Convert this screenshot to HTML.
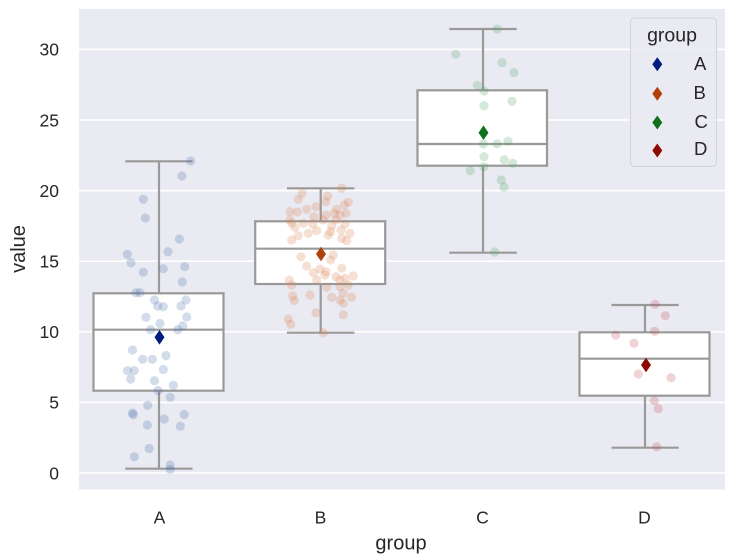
<!DOCTYPE html>
<html>
<head>
<meta charset="utf-8">
<style>
  html,body{margin:0;padding:0;background:#ffffff;}
  svg{display:block;}
  text{font-family:"Liberation Sans","DejaVu Sans",Arial,sans-serif;fill:#262626;}
</style>
</head>
<body>
<svg width="736" height="560" viewBox="0 0 736 560" xmlns="http://www.w3.org/2000/svg">
  <rect x="0" y="0" width="736" height="560" fill="#ffffff"/>
  <!-- plot area -->
  <rect x="79" y="9" width="646" height="480.5" fill="#eaeaf2"/>
  <!-- grid -->
  <g stroke="#ffffff" stroke-width="1.6">
    <line x1="79" x2="725" y1="473" y2="473"/>
    <line x1="79" x2="725" y1="402.4" y2="402.4"/>
    <line x1="79" x2="725" y1="331.8" y2="331.8"/>
    <line x1="79" x2="725" y1="261.2" y2="261.2"/>
    <line x1="79" x2="725" y1="190.6" y2="190.6"/>
    <line x1="79" x2="725" y1="120" y2="120"/>
    <line x1="79" x2="725" y1="49.4" y2="49.4"/>
  </g>

  <!-- boxes -->
  <g stroke="#999999" stroke-width="2.2" fill="none">
    <!-- A -->
    <line x1="159" x2="159" y1="161.3" y2="293.3"/>
    <line x1="159" x2="159" y1="390.7" y2="468.7"/>
    <line x1="125.3" x2="192.5" y1="161.3" y2="161.3"/>
    <line x1="125.3" x2="192.5" y1="468.7" y2="468.7"/>
    <rect x="93.5" y="293.3" width="130" height="97.4" fill="#ffffff"/>
    <line x1="93.5" x2="223.5" y1="329.7" y2="329.7"/>
    <!-- B -->
    <line x1="320.7" x2="320.7" y1="188.3" y2="221.3"/>
    <line x1="320.7" x2="320.7" y1="284" y2="332.7"/>
    <line x1="287" x2="354.4" y1="188.3" y2="188.3"/>
    <line x1="287" x2="354.4" y1="332.7" y2="332.7"/>
    <rect x="255.2" y="221.3" width="130" height="62.7" fill="#ffffff"/>
    <line x1="255.2" x2="385.2" y1="248.7" y2="248.7"/>
    <!-- C -->
    <line x1="483" x2="483" y1="29" y2="90.3"/>
    <line x1="483" x2="483" y1="165.7" y2="252.7"/>
    <line x1="449.3" x2="516.7" y1="29" y2="29"/>
    <line x1="449.3" x2="516.7" y1="252.7" y2="252.7"/>
    <rect x="417.5" y="90.3" width="129.5" height="75.4" fill="#ffffff"/>
    <line x1="417.5" x2="547" y1="144" y2="144"/>
    <!-- D -->
    <line x1="645" x2="645" y1="305" y2="332.3"/>
    <line x1="645" x2="645" y1="395.7" y2="447.7"/>
    <line x1="611.5" x2="678.7" y1="305" y2="305"/>
    <line x1="611.5" x2="678.7" y1="447.7" y2="447.7"/>
    <rect x="579.5" y="332.3" width="130" height="63.4" fill="#ffffff"/>
    <line x1="579.5" x2="709.5" y1="358.7" y2="358.7"/>
  </g>

  <!-- points A -->
  <g fill="#4c72b0" fill-opacity="0.25">
    <circle cx="190.7" cy="161" r="4.6"/><circle cx="182" cy="176" r="4.6"/><circle cx="143.3" cy="199.3" r="4.6"/>
    <circle cx="145.3" cy="218" r="4.6"/><circle cx="179.3" cy="239" r="4.6"/><circle cx="168" cy="251.7" r="4.6"/>
    <circle cx="127.3" cy="254.3" r="4.6"/><circle cx="131" cy="262.7" r="4.6"/><circle cx="143.3" cy="272.3" r="4.6"/>
    <circle cx="163.3" cy="268.7" r="4.6"/><circle cx="184.7" cy="266.7" r="4.6"/><circle cx="182.3" cy="282" r="4.6"/>
    <circle cx="136" cy="292.7" r="4.6"/><circle cx="140" cy="292.7" r="4.6"/><circle cx="154.5" cy="300" r="4.6"/>
    <circle cx="157.7" cy="306" r="4.6"/><circle cx="163.3" cy="306.7" r="4.6"/><circle cx="186" cy="300" r="4.6"/>
    <circle cx="181" cy="306" r="4.6"/><circle cx="146" cy="317.3" r="4.6"/><circle cx="186.7" cy="317" r="4.6"/>
    <circle cx="160" cy="323.5" r="4.6"/><circle cx="182.7" cy="326" r="4.6"/><circle cx="150.7" cy="329.7" r="4.6"/>
    <circle cx="177.7" cy="329.7" r="4.6"/><circle cx="132.5" cy="350" r="4.6"/><circle cx="142.7" cy="359.3" r="4.6"/>
    <circle cx="152.3" cy="359.3" r="4.6"/><circle cx="166" cy="355.5" r="4.6"/><circle cx="127.5" cy="370.7" r="4.6"/>
    <circle cx="134.3" cy="370.7" r="4.6"/><circle cx="130.7" cy="379" r="4.6"/><circle cx="163.3" cy="369.5" r="4.6"/>
    <circle cx="154.5" cy="380.7" r="4.6"/><circle cx="173.3" cy="385.2" r="4.6"/><circle cx="158" cy="390.5" r="4.6"/>
    <circle cx="170.2" cy="397.3" r="4.6"/><circle cx="147.7" cy="405.3" r="4.6"/><circle cx="132.5" cy="413" r="4.6"/>
    <circle cx="133.3" cy="414.7" r="4.6"/><circle cx="184.2" cy="414.5" r="4.6"/><circle cx="164.2" cy="419" r="4.6"/>
    <circle cx="147.3" cy="425" r="4.6"/><circle cx="180.3" cy="426.2" r="4.6"/><circle cx="149.2" cy="448.5" r="4.6"/>
    <circle cx="134.3" cy="456.8" r="4.6"/><circle cx="170.2" cy="465" r="4.6"/><circle cx="170.2" cy="469.3" r="4.6"/>
  </g>

  <!-- points B -->
  <g fill="#dd8452" fill-opacity="0.25">
    <circle cx="341.7" cy="188.3" r="4.6"/><circle cx="302" cy="193.3" r="4.6"/><circle cx="327.7" cy="196" r="4.6"/>
    <circle cx="298.3" cy="199.3" r="4.6"/><circle cx="325.7" cy="201.7" r="4.6"/><circle cx="348.3" cy="202.3" r="4.6"/>
    <circle cx="344.3" cy="205" r="4.6"/><circle cx="316" cy="206.7" r="4.6"/><circle cx="306.7" cy="209.3" r="4.6"/>
    <circle cx="290" cy="211.7" r="4.6"/><circle cx="297.3" cy="212" r="4.6"/><circle cx="336.7" cy="209.3" r="4.6"/>
    <circle cx="334.3" cy="213.3" r="4.6"/><circle cx="346" cy="213.3" r="4.6"/><circle cx="326" cy="215" r="4.6"/>
    <circle cx="340" cy="215" r="4.6"/><circle cx="290" cy="220" r="4.6"/><circle cx="314" cy="216.7" r="4.6"/>
    <circle cx="323.3" cy="220" r="4.6"/><circle cx="336" cy="220" r="4.6"/><circle cx="291.7" cy="223.3" r="4.6"/>
    <circle cx="303.3" cy="223.3" r="4.6"/><circle cx="312.7" cy="224" r="4.6"/><circle cx="345" cy="224" r="4.6"/>
    <circle cx="331.7" cy="226" r="4.6"/><circle cx="295" cy="227.3" r="4.6"/><circle cx="316.7" cy="230.7" r="4.6"/>
    <circle cx="330.7" cy="231.7" r="4.6"/><circle cx="341" cy="230" r="4.6"/><circle cx="308.3" cy="233.3" r="4.6"/>
    <circle cx="350" cy="233.3" r="4.6"/><circle cx="328.3" cy="235" r="4.6"/><circle cx="298.3" cy="235.7" r="4.6"/>
    <circle cx="341.7" cy="238.3" r="4.6"/><circle cx="291.7" cy="240" r="4.6"/><circle cx="346.7" cy="240.7" r="4.6"/>
    <circle cx="301" cy="256.7" r="4.6"/><circle cx="333.3" cy="255" r="4.6"/><circle cx="330.7" cy="260" r="4.6"/>
    <circle cx="306.7" cy="266" r="4.6"/><circle cx="341.7" cy="268.3" r="4.6"/><circle cx="320" cy="269" r="4.6"/>
    <circle cx="313.3" cy="272.7" r="4.6"/><circle cx="326" cy="271.7" r="4.6"/><circle cx="353.3" cy="276" r="4.6"/>
    <circle cx="325" cy="275" r="4.6"/><circle cx="336" cy="276.7" r="4.6"/><circle cx="345" cy="278.3" r="4.6"/>
    <circle cx="340" cy="280" r="4.6"/><circle cx="289.3" cy="280" r="4.6"/><circle cx="316.7" cy="280" r="4.6"/>
    <circle cx="291.7" cy="285" r="4.6"/><circle cx="348.3" cy="285" r="4.6"/><circle cx="340" cy="286.7" r="4.6"/>
    <circle cx="326.7" cy="287.3" r="4.6"/><circle cx="292.7" cy="296" r="4.6"/><circle cx="310" cy="295" r="4.6"/>
    <circle cx="343.3" cy="293.3" r="4.6"/><circle cx="331.7" cy="297.3" r="4.6"/><circle cx="351.7" cy="297.3" r="4.6"/>
    <circle cx="294.3" cy="300.7" r="4.6"/><circle cx="340" cy="300" r="4.6"/><circle cx="343.3" cy="303.3" r="4.6"/>
    <circle cx="316" cy="312.7" r="4.6"/><circle cx="343.3" cy="314.7" r="4.6"/><circle cx="288.3" cy="319" r="4.6"/>
    <circle cx="290.7" cy="324.3" r="4.6"/><circle cx="323.3" cy="332.7" r="4.6"/>
  </g>

  <!-- points C -->
  <g fill="#55a868" fill-opacity="0.25">
    <circle cx="497.3" cy="29" r="4.6"/><circle cx="455.7" cy="54.3" r="4.6"/><circle cx="502" cy="62.7" r="4.6"/>
    <circle cx="514" cy="72.7" r="4.6"/><circle cx="477.3" cy="85.3" r="4.6"/><circle cx="484" cy="91" r="4.6"/>
    <circle cx="484" cy="105.7" r="4.6"/><circle cx="512" cy="101.3" r="4.6"/><circle cx="483.3" cy="144" r="4.6"/>
    <circle cx="497" cy="143.7" r="4.6"/><circle cx="508" cy="141.3" r="4.6"/><circle cx="484" cy="156.7" r="4.6"/>
    <circle cx="504.3" cy="159.7" r="4.6"/><circle cx="512.7" cy="163.3" r="4.6"/><circle cx="484" cy="166.7" r="4.6"/>
    <circle cx="470.3" cy="170.7" r="4.6"/><circle cx="501.3" cy="180" r="4.6"/><circle cx="504" cy="187" r="4.6"/>
    <circle cx="494.7" cy="252" r="4.6"/>
  </g>

  <!-- points D -->
  <g fill="#c44e52" fill-opacity="0.25">
    <circle cx="655" cy="304.3" r="4.6"/><circle cx="665.3" cy="315.7" r="4.6"/><circle cx="654.7" cy="331.3" r="4.6"/>
    <circle cx="615.7" cy="335" r="4.6"/><circle cx="634" cy="343.3" r="4.6"/><circle cx="638.3" cy="374" r="4.6"/>
    <circle cx="671" cy="377.7" r="4.6"/><circle cx="654.3" cy="400.7" r="4.6"/><circle cx="658.3" cy="408.7" r="4.6"/>
    <circle cx="656.7" cy="446.7" r="4.6"/>
  </g>

  <!-- means -->
  <polygon points="159.5,330 164.5,337.3 159.5,344.6 154.5,337.3" fill="#001c7f"/>
  <polygon points="321,246.7 326,254 321,261.3 316,254" fill="#b1400d"/>
  <polygon points="483.5,125.4 488.5,132.7 483.5,140 478.5,132.7" fill="#12711c"/>
  <polygon points="646,357.7 651,365 646,372.3 641,365" fill="#8c0800"/>

  <!-- y tick labels -->
  <g font-size="17.5" text-anchor="end">
    <text x="59" y="479.3">0</text>
    <text x="59" y="408.7">5</text>
    <text x="59" y="338.1">10</text>
    <text x="59" y="267.5">15</text>
    <text x="59" y="196.9">20</text>
    <text x="59" y="126.3">25</text>
    <text x="59" y="55.7">30</text>
  </g>
  <!-- x tick labels -->
  <g font-size="17.5" text-anchor="middle">
    <text x="159.5" y="523.5">A</text>
    <text x="320.5" y="523.5">B</text>
    <text x="482.5" y="523.5">C</text>
    <text x="644.5" y="523.5">D</text>
  </g>
  <!-- axis labels -->
  <text x="401" y="549.5" font-size="20" text-anchor="middle">group</text>
  <text x="0" y="0" font-size="20" text-anchor="middle" transform="translate(25,249) rotate(-90)">value</text>

  <!-- legend -->
  <rect x="630.5" y="18" width="86" height="148.5" rx="4" ry="4" fill="#eaeaf2" fill-opacity="0.8" stroke="#d2d2d8" stroke-width="1"/>
  <text x="672" y="41.5" font-size="19.5" text-anchor="middle">group</text>
  <polygon points="657.3,57.3 662.3,64.3 657.3,71.3 652.3,64.3" fill="#001c7f"/>
  <polygon points="657.3,86.8 662.3,93.8 657.3,100.8 652.3,93.8" fill="#b1400d"/>
  <polygon points="657.3,115.5 662.3,122.5 657.3,129.5 652.3,122.5" fill="#12711c"/>
  <polygon points="657.3,143.5 662.3,150.5 657.3,157.5 652.3,150.5" fill="#8c0800"/>
  <g font-size="18.5">
    <text x="694" y="70">A</text>
    <text x="693.5" y="99">B</text>
    <text x="694.5" y="128">C</text>
    <text x="694" y="155">D</text>
  </g>
</svg>
</body>
</html>
